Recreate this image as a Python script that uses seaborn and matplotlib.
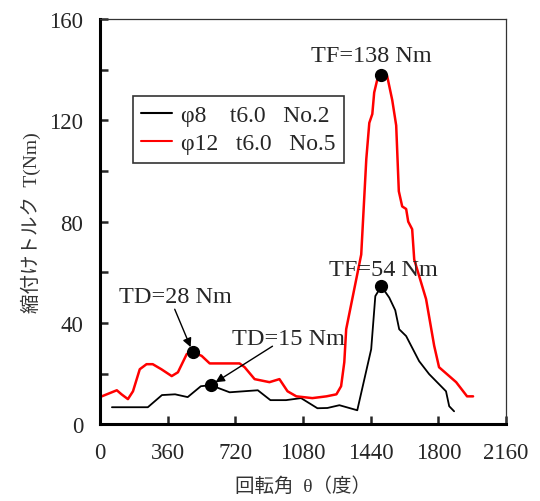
import matplotlib
matplotlib.use("Agg")
import matplotlib.pyplot as plt
import seaborn as sns
import pandas as pd
from matplotlib.lines import Line2D

# ---- data ----
black_x = [64, 255, 330, 400, 467, 537, 590, 690, 840, 907, 990, 1070, 1157, 1210,
           1274, 1369, 1443, 1465, 1497, 1539, 1571, 1592, 1629, 1698, 1751, 1841,
           1858, 1884]
black_y = [6.7, 6.7, 11.5, 11.8, 10.7, 15, 15.4, 12.6, 13.4, 9.5, 9.5, 10.3, 6.3, 6.4,
           7.5, 5.5, 29.6, 50.6, 54.5, 50, 45, 37.5, 34.8, 24.9, 19.8, 13, 7.1, 5.1]
red_x = [10, 90, 115, 149, 176, 212, 248, 281, 327, 382, 415, 462, 494, 541, 584, 679,
         743, 770, 823, 902, 955, 998, 1045, 1130, 1205, 1258, 1283, 1300, 1310, 1390,
         1417, 1433, 1449, 1459, 1475, 1497, 1515, 1528, 1555, 1576, 1590, 1608, 1629,
         1640, 1661, 1672, 1735, 1778, 1804, 1895, 1953, 1985]
red_y = [11, 13.4, 11.8, 9.9, 13, 21.7, 23.7, 23.7, 21.7, 19, 20.5, 27.7, 28.4, 27, 24,
         24, 24, 22.5, 17.8, 16.6, 17.8, 13, 11, 10.3, 11, 11.8, 15, 24.5, 37.5, 67,
         104.7, 119, 122.5, 131, 136, 138, 138.5, 137.5, 128, 118, 92, 86, 85, 80, 77,
         65, 49.4, 31, 22.5, 16.6, 11, 11]
series_names = ["φ8    t6.0   No.2", "φ12   t6.0   No.5"]
series_colors = ["black", "red"]

point_x = [494, 590, 1497, 1497]
point_y = [28.4, 15.4, 138, 54.5]
point_labels = ["TD=28 Nm", "TD=15 Nm", "TF=138 Nm", "TF=54 Nm"]

x_ticks = [0, 360, 720, 1080, 1440, 1800, 2160]
y_ticks = [0, 40, 80, 120, 160]

df = pd.concat([
    pd.DataFrame({"x": black_x, "y": black_y, "s": series_names[0]}),
    pd.DataFrame({"x": red_x, "y": red_y, "s": series_names[1]}),
])

sns.set_style("ticks")
plt.rcParams["font.family"] = ["Liberation Serif", "Noto Sans CJK JP", "DejaVu Sans"]

fig = plt.figure(figsize=(5.40, 5.02), dpi=100)
ax = fig.add_axes([0.185, 0.153, 0.752, 0.807])

sns.lineplot(data=df, x="x", y="y", hue="s", palette=dict(zip(series_names, series_colors)),
             sort=False, estimator=None, ax=ax, legend=False)
for ln, lw in zip(ax.get_lines(), [1.3, 1.8]):
    ln.set_linewidth(lw)
    ln.set_solid_joinstyle("round")

ax.plot(point_x, point_y, "o", color="black", markersize=8.5, zorder=5)

fs_ann = 17.5
ax.text(1443, 145.5, point_labels[2], ha="center", va="center", fontsize=fs_ann)
ax.text(1507, 61, point_labels[3], ha="center", va="center", fontsize=fs_ann)
ax.text(403, 50.5, point_labels[0], ha="center", va="center", fontsize=fs_ann)
ax.text(1003, 34, point_labels[1], ha="center", va="center", fontsize=fs_ann)
arrow_kw = dict(arrowstyle="-|>", color="black", lw=1, shrinkA=0, shrinkB=4,
                mutation_scale=13)
ax.annotate("", xy=(494, 28.4), xytext=(398, 45.4), arrowprops=arrow_kw)
ax.annotate("", xy=(590, 15.4), xytext=(918, 30.8), arrowprops=arrow_kw)

ax.set_xlim(0, 2160)
ax.set_ylim(0, 160)
ax.set_xticks(x_ticks)
ax.set_xticklabels([str(t) for t in x_ticks])
ax.set_yticks(y_ticks)
ax.set_yticklabels([str(t) for t in y_ticks])
ax.set_yticks([20, 60, 100, 140], minor=True)
ax.tick_params(axis="both", which="both", direction="in", length=6, width=1.8,
               labelsize=16.5)
ax.tick_params(axis="x", pad=13)
ax.tick_params(axis="y", pad=12)
ax.tick_params(axis="y", which="minor", length=6, width=1.8)

for side in ["left", "bottom"]:
    ax.spines[side].set_linewidth(2.2)
    ax.spines[side].set_color("black")
for side in ["top", "right"]:
    ax.spines[side].set_visible(True)
    ax.spines[side].set_linewidth(0.9)
    ax.spines[side].set_color("#333333")

ax.set_xlabel("回転角  θ（度）", fontsize=14, color="#333333", labelpad=9)
ax.set_ylabel("縮付けトルク  T(Nm)", fontsize=14, color="#333333", labelpad=6)

handles = [Line2D([], [], color=c, lw=1.5) for c in series_colors]
leg = ax.legend(handles, series_names, loc="upper left", bbox_to_anchor=(0.081, 0.81),
                borderaxespad=0, fontsize=17, frameon=True, fancybox=False,
                handlelength=1.3, handletextpad=0.4, borderpad=0.35, labelspacing=0.3)
leg.get_frame().set_edgecolor("black")
leg.get_frame().set_linewidth(1.2)

fig.savefig("out.png", dpi=100)
